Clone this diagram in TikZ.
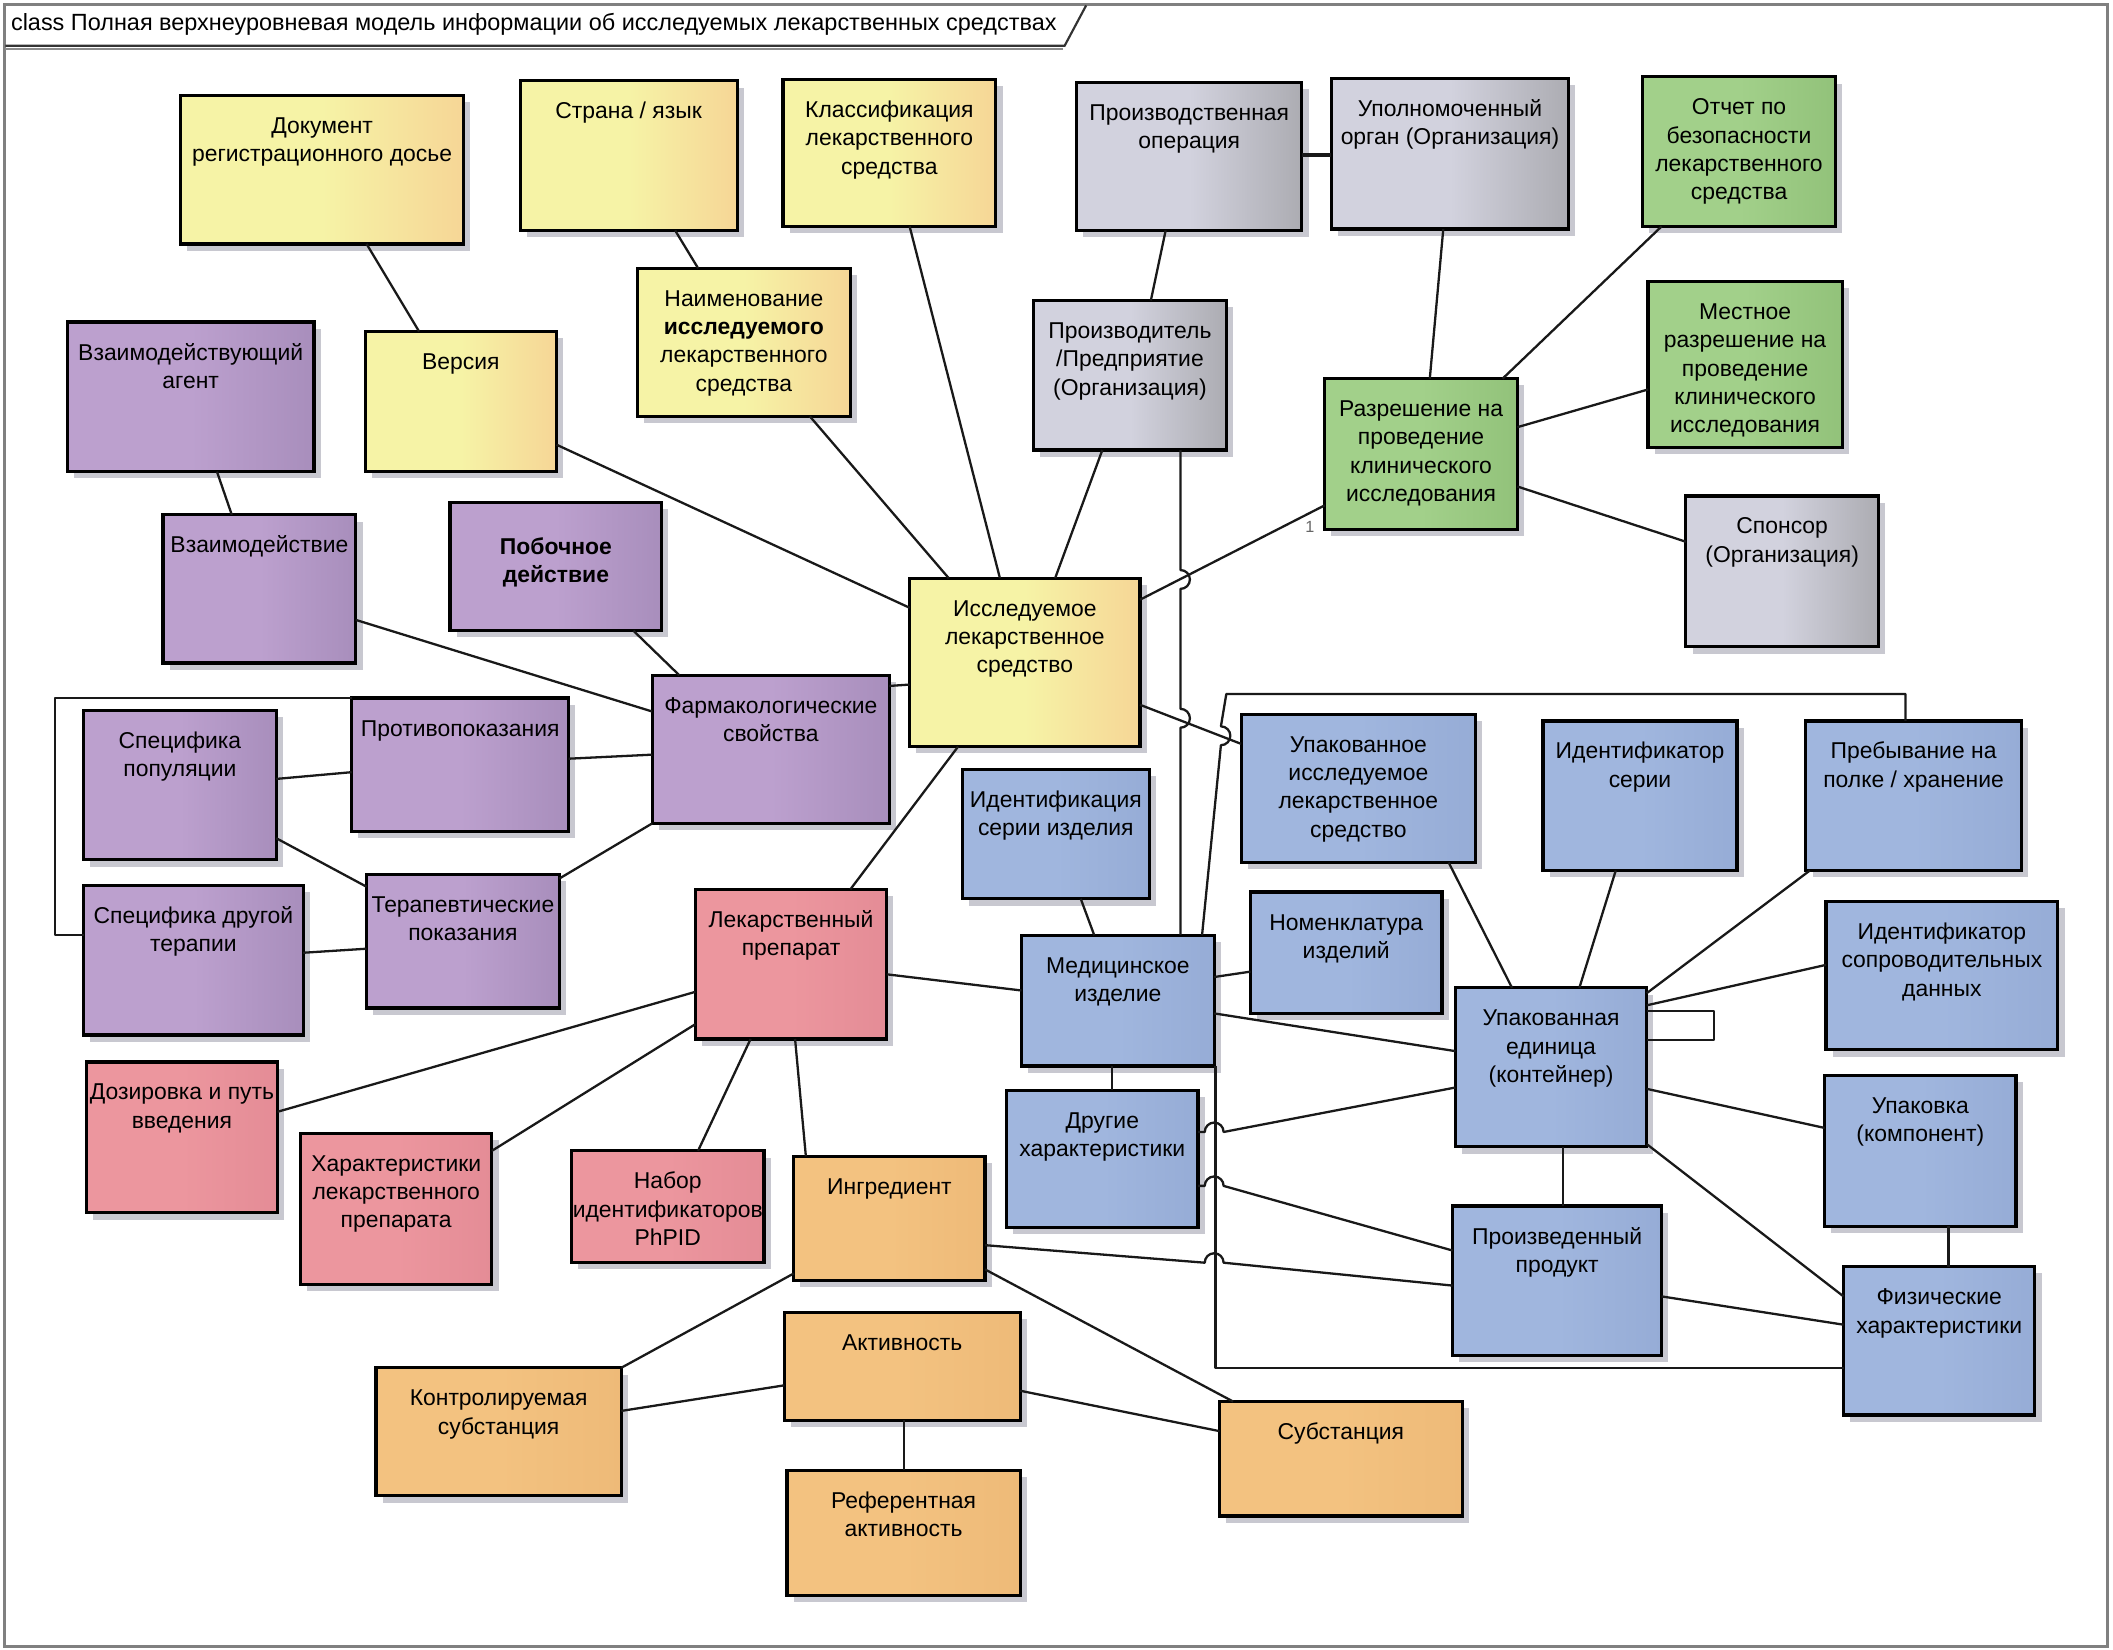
\documentclass[tikz,border=0pt]{standalone}
\usepackage{fontspec}
\setmainfont{Liberation Sans}
\usetikzlibrary{shadows}
\definecolor{ylA}{RGB}{246,243,166}
\definecolor{ylB}{RGB}{246,214,150}
\definecolor{puA}{RGB}{188,160,206}
\definecolor{puB}{RGB}{168,142,188}
\definecolor{grA}{RGB}{210,210,222}
\definecolor{grB}{RGB}{172,172,178}
\definecolor{gnA}{RGB}{162,208,138}
\definecolor{gnB}{RGB}{146,194,122}
\definecolor{blA}{RGB}{160,182,222}
\definecolor{blB}{RGB}{150,172,214}
\definecolor{pkA}{RGB}{236,150,158}
\definecolor{pkB}{RGB}{228,140,150}
\definecolor{orA}{RGB}{243,194,128}
\definecolor{orB}{RGB}{238,186,120}
\definecolor{shadowc}{RGB}{200,200,208}
\definecolor{framec}{RGB}{128,128,128}
\newcommand\umlbox[8][0]{%
  \node[#3, anchor=north west, minimum width={(#6)-(#4)}, minimum height={(#7)-(#5)}] (#2) at (#4,#5) {};
  \node[boxtext, anchor=north] (#2t) at ([yshift={-(13.3+#1)*1pt}]#2.north) {\strut #8};
}
\begin{document}
\begin{tikzpicture}[x=1pt,y=-1pt,
  ubox/.style={draw=black, line width=2.4pt, inner sep=0pt, outer sep=0pt,
    drop shadow={shadow xshift=5pt, shadow yshift=-5pt, fill=shadowc, opacity=1}},
  yel/.style={ubox, left color=ylA, right color=ylB, middle color=ylA},
  pur/.style={ubox, left color=puA, right color=puB, middle color=puA},
  gry/.style={ubox, left color=grA, right color=grB, middle color=grA},
  grn/.style={ubox, left color=gnA, right color=gnB, middle color=gnA},
  blu/.style={ubox, left color=blA, right color=blB, middle color=blA},
  pnk/.style={ubox, left color=pkA, right color=pkB, middle color=pkA},
  org/.style={ubox, left color=orA, right color=orB, middle color=orA},
  boxtext/.style={inner sep=0pt, align=center, text=black, font=\fontsize{17}{21}\selectfont},
  conn/.style={draw=black!90, line width=1.7pt, line join=round},
  lbl/.style={inner sep=0pt, text=black!60, font=\fontsize{12}{14}\selectfont}]
\useasboundingbox (0,0) rectangle (1568,1224);
\fill[white] (0,0) rectangle (1568,1224);
% frame and title tab
\draw[framec, line width=2pt] (3.5,3.5) rectangle (1564,1222);
\draw[black!45, line width=1.5pt] (4,36.5) -- (789,36.5);
\draw[black!80, line width=1.6pt] (4,34) -- (790,34) -- (806,4);
\node[anchor=base west, inner sep=0pt, text=black, font=\fontsize{17.4}{21}\selectfont] (title) at (8,23)
  {class Полная верхнеуровневая модель информации об исследуемых лекарственных средствах};

% boxes
\umlbox{doc}{yel}{134}{71}{344}{181}{Документ\\регистрационного досье}
\umlbox{lang}{yel}{386}{60}{547}{171}{Страна / язык}
\umlbox{clsf}{yel}{581}{59}{739}{168}{Классификация\\лекарственного\\средства}
\umlbox{prodop}{gry}{799}{61}{966}{171}{Производственная\\операция}
\umlbox{auth}{gry}{988}{58}{1164}{170}{Уполномоченный\\орган (Организация)}
\umlbox{safety}{grn}{1219}{57}{1362}{168}{Отчет по\\безопасности\\лекарственного\\средства}
\umlbox{name}{yel}{473}{199}{631}{309}{Наименование\\\textbf{исследуемого}\\лекарственного\\средства}
\umlbox{ver}{yel}{271}{246}{413}{350}{Версия}
\umlbox{agent}{pur}{50}{239}{233}{350}{Взаимодействующий\\агент}
\umlbox{manuf}{gry}{767}{223}{910}{334}{Производитель\\/Предприятие\\(Организация)}
\umlbox{local}{grn}{1223}{209}{1367}{332}{Местное\\разрешение на\\проведение\\клинического\\исследования}
\umlbox{permit}{grn}{983}{281}{1126}{393}{Разрешение на\\проведение\\клинического\\исследования}
\umlbox{inter}{pur}{121}{382}{264}{492}{Взаимодействие}
\umlbox[10]{side}{pur}{334}{373}{491}{468}{\textbf{Побочное}\\\textbf{действие}}
\umlbox{sponsor}{gry}{1251}{368}{1394}{480}{Спонсор\\(Организация)}
\umlbox{imp}{yel}{675}{429}{846}{554}{Исследуемое\\лекарственное\\средство}
\umlbox{pharm}{pur}{484}{501}{660}{611}{Фармакологические\\свойства}
\umlbox{contra}{pur}{261}{518}{422}{617}{Противопоказания}
\umlbox{pop}{pur}{62}{527}{205}{638}{Специфика\\популяции}
\umlbox{other}{pur}{62}{657}{225}{768}{Специфика другой\\терапии}
\umlbox{ther}{pur}{272}{649}{415}{748}{Терапевтические\\показания}
\umlbox{pimp}{blu}{921}{530}{1095}{640}{Упакованное\\исследуемое\\лекарственное\\средство}
\umlbox{batch}{blu}{1145}{535}{1289}{646}{Идентификатор\\серии}
\umlbox{shelf}{blu}{1340}{535}{1500}{646}{Пребывание на\\полке / хранение}
\umlbox{devbatch}{blu}{714}{571}{853}{667}{Идентификация\\серии изделия}
\umlbox{nomen}{blu}{928}{662}{1070}{752}{Номенклатура\\изделий}
\umlbox{drug}{pnk}{516}{660}{658}{771}{Лекарственный\\препарат}
\umlbox{device}{blu}{758}{694}{901}{791}{Медицинское\\изделие}
\umlbox{datacarrier}{blu}{1355}{669}{1527}{779}{Идентификатор\\сопроводительных\\данных}
\umlbox{unit}{blu}{1080}{733}{1222}{851}{Упакованная\\единица\\(контейнер)}
\umlbox{dose}{pnk}{64}{788}{206}{900}{Дозировка и путь\\введения}
\umlbox{otherch}{blu}{747}{809}{889}{911}{Другие\\характеристики}
\umlbox{pack}{blu}{1354}{798}{1496}{910}{Упаковка\\(компонент)}
\umlbox{drugch}{pnk}{223}{841}{365}{953}{Характеристики\\лекарственного\\препарата}
\umlbox{phpid}{pnk}{424}{854}{567}{937}{Набор\\идентификаторов\\PhPID}
\umlbox{ingr}{org}{589}{858}{731}{950}{Ингредиент}
\umlbox{mfd}{blu}{1078}{895}{1233}{1006}{Произведенный\\продукт}
\umlbox{phys}{blu}{1368}{940}{1510}{1050}{Физические\\характеристики}
\umlbox{act}{org}{582}{974}{757}{1054}{Активность}
\umlbox{ctrl}{org}{279}{1015}{461}{1110}{Контролируемая\\субстанция}
\umlbox{subst}{org}{905}{1040}{1085}{1125}{Субстанция}
\umlbox{refact}{org}{584}{1091}{757}{1184}{Референтная\\активность}

% connectors
\draw[conn] (doc.south -| 272,0) -- (ver.north -| 311,0);
\draw[conn] (lang.south -| 501,0) -- (name.north -| 518,0);
\draw[conn] (clsf.south -| 675,0) -- (imp.north -| 742,0);
\draw[conn, line width=2.4pt] (prodop.east |- 0,115) -- (auth.west |- 0,115);
\draw[conn] (prodop.south -| 865,0) -- (manuf.north -| 854,0);
\draw[conn] (auth.south -| 1071,0) -- (permit.north -| 1061,0);
\draw[conn] (safety.south -| 1233,0) -- (permit.north -| 1115,0);
\draw[conn] (local.west |- 0,289) -- (permit.east |- 0,317);
\draw[conn] (permit.east |- 0,361) -- (sponsor.west |- 0,402);
\draw[conn] (permit.west |- 0,375) -- (imp.east |- 0,445);
\node[lbl] (mult) at (972,391) {1};
\draw[conn] (name.south -| 601,0) -- (imp.north -| 704,0);
\draw[conn] (ver.east |- 0,330) -- (imp.west |- 0,451);
\draw[conn] (manuf.south -| 818,0) -- (imp.north -| 783,0);
\draw[conn] (manuf.south -| 876,0) -- (876,423) arc[start angle=-90,end angle=90,radius=7]
  -- (876,526) arc[start angle=-90,end angle=90,radius=7] -- (device.north -| 876,0);
\draw[conn] (agent.south -| 161,0) -- (inter.north -| 172,0);
\draw[conn] (inter.east |- 0,460) -- (pharm.west |- 0,528);
\draw[conn] (side.south -| 470,0) -- (pharm.north -| 504,0);
\draw[conn] (pharm.east |- 0,509) -- (imp.west |- 0,508);
\draw[conn] (contra.east |- 0,563) -- (pharm.west |- 0,560);
\draw[conn] (pop.east |- 0,578) -- (contra.west |- 0,573);
\draw[conn] (pop.east |- 0,622) -- (ther.west |- 0,658);
\draw[conn] (other.east |- 0,707) -- (ther.west |- 0,704);
\draw[conn] (ther.east |- 0,652) -- (pharm.south west);
\draw[conn] (contra.north west) -- (41,518) -- (41,694) -- (other.west |- 0,694);
\draw[conn] (imp.south -| 711,0) -- (drug.north -| 631,0);
\draw[conn] (imp.east |- 0,523) -- (pimp.west |- 0,552);
\draw[conn] (devbatch.south -| 802,0) -- (device.north -| 812,0);
\draw[conn] (drug.east |- 0,723) -- (device.west |- 0,735);
\draw[conn] (device.east |- 0,725) -- (nomen.west |- 0,721);
\draw[conn] (device.east |- 0,752) -- (unit.west |- 0,780);
\draw[conn] (device.south -| 825,0) -- (otherch.north -| 825,0);
\draw[conn] (pimp.south -| 1075,0) -- (unit.north -| 1122,0);
\draw[conn] (batch.south -| 1199,0) -- (unit.north -| 1172,0);
\draw[conn] (shelf.south -| 1343,0) -- (unit.east |- 0,737);
\draw[conn] (unit.east |- 0,746) -- (datacarrier.west |- 0,716);
\draw[conn] (unit.east |- 0,750) -- (1272,750) -- (1272,772) -- (unit.east |- 0,772);
\draw[conn] (unit.east |- 0,808) -- (pack.west |- 0,837);
\draw[conn] (unit.east |- 0,849) -- (phys.west |- 0,962);
\draw[conn] (unit.south -| 1160,0) -- (mfd.north -| 1160,0);
\draw[conn] (otherch.east |- 0,840) -- (894,840) arc[start angle=180,end angle=360,radius=7] -- (unit.west |- 0,807);
\draw[conn] (otherch.east |- 0,880) -- (894,880) arc[start angle=180,end angle=360,radius=7] -- (mfd.west |- 0,928);
\draw[conn] (ingr.east |- 0,924) -- (894,937) arc[start angle=180,end angle=360,radius=7] -- (mfd.west |- 0,954);
\draw[conn] (mfd.east |- 0,962) -- (phys.west |- 0,983);
\draw[conn] (pack.south -| 1446,0) -- (phys.north -| 1446,0);
\draw[conn] (ingr.east |- 0,942) -- (subst.north -| 915,0);
\draw[conn] (ingr.west |- 0,945) -- (ctrl.north east);
\draw[conn] (ctrl.east |- 0,1047) -- (act.west |- 0,1028);
\draw[conn] (act.east |- 0,1032) -- (subst.west |- 0,1062);
\draw[conn] (act.south -| 671,0) -- (refact.north -| 671,0);
\draw[conn] (drug.west |- 0,736) -- (dose.east |- 0,825);
\draw[conn] (drug.west |- 0,760) -- (drugch.east |- 0,854);
\draw[conn] (drug.south -| 557,0) -- (phpid.north -| 518,0);
\draw[conn] (drug.south -| 590,0) -- (ingr.north -| 598,0);
\draw[conn] (device.north -| 892,0) -- (906,553) arc[start angle=90,end angle=-90,radius=7]
  -- (910,515) -| (shelf.north -| 1414,0);
\draw[conn] (device.south -| 902,0) |- (phys.west |- 0,1015);
\end{tikzpicture}
\end{document}
